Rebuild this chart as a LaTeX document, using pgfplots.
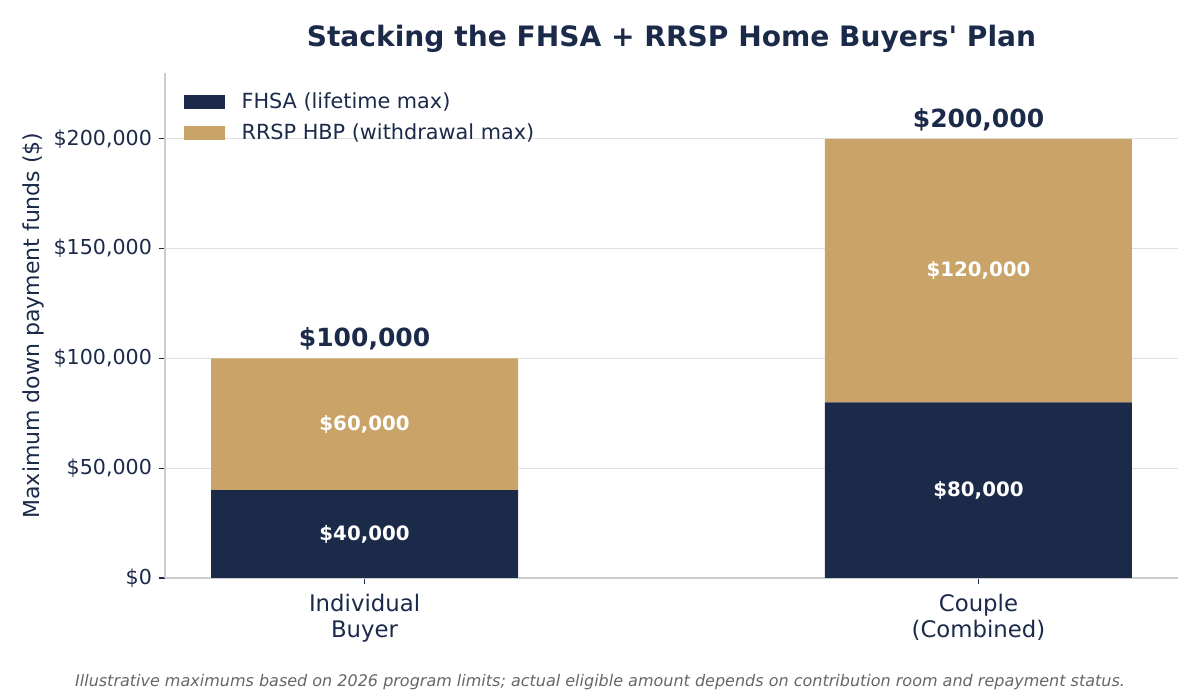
\documentclass[border=0pt]{standalone}
\usepackage{fontspec}
\setmainfont{DejaVu Sans}
\usepackage{pgfplots}
\pgfplotsset{compat=1.18}
\definecolor{navy}{HTML}{1C2A4A}
\definecolor{tan}{HTML}{C9A368}
\definecolor{gridc}{HTML}{E0E0E0}
\definecolor{spine}{HTML}{CCCCCC}
\definecolor{foot}{HTML}{666666}

\begin{document}
\begin{tikzpicture}
\path[use as bounding box] (0,0) rectangle (600pt,345pt);
\pgfplotsset{common/.style={
  at={(82.5pt,56pt)}, anchor=south west, scale only axis,
  width=506.5pt, height=252.5pt,
  xmin=-0.325, xmax=1.325, ymin=0, ymax=230000}}
\begin{axis}[common,
  ybar stacked, bar width=153.5pt,
  axis lines*=left, axis line style={spine, line width=0.8pt},
  xtick={0,1}, xticklabels={{Individual\\Buyer},{Couple\\(Combined)}},
  xticklabel style={align=center, font=\fontsize{11.4}{13}\selectfont, text=navy, yshift=-1.5pt},
  ytick={0,50000,100000,150000,200000},
  yticklabels={{\$0},{\$50,000},{\$100,000},{\$150,000},{\$200,000}},
  yticklabel style={font=\fontsize{10.3}{12}\selectfont, text=navy},
  scaled y ticks=false,
  tick align=outside, tick style={navy, line width=0.6pt},
  major tick length=3pt,
  ymajorgrids, grid style={gridc, line width=0.6pt},
  ylabel={Maximum down payment funds (\$)},
  ylabel style={font=\fontsize{11}{13}\selectfont, text=navy, yshift=-2pt},
  legend style={at={(0.012,0.978)}, anchor=north west, draw=none, fill=none,
    font=\fontsize{10.4}{12}\selectfont, text=navy, row sep=2pt,
    legend cell align=left,
    /tikz/every odd column/.append style={column sep=6.5pt}},
]
\addplot[fill=navy, draw=none,
  legend image code/.code={\fill[navy] (0pt,-3.5pt) rectangle (20.5pt,3.5pt);}]
  coordinates {(0,40000) (1,80000)};
\addlegendentry{FHSA (lifetime max)}
\addplot[fill=tan, draw=none,
  legend image code/.code={\fill[tan] (0pt,-3.5pt) rectangle (20.5pt,3.5pt);}]
  coordinates {(0,60000) (1,120000)};
\addlegendentry{RRSP HBP (withdrawal max)}
\end{axis}
\begin{axis}[common, hide axis]
\addplot[draw=none, mark=none, nodes near coords, point meta=explicit symbolic,
  every node near coord/.style={anchor=center, text=white,
    font=\bfseries\fontsize{9.9}{11}\selectfont}]
  coordinates {(0,20000)[\$40,000] (1,40000)[\$80,000]
               (0,70000)[\$60,000] (1,140000)[\$120,000]};
\addplot[draw=none, mark=none, nodes near coords, point meta=explicit symbolic,
  every node near coord/.style={anchor=south, text=navy, yshift=0.5pt,
    font=\bfseries\fontsize{12.5}{14}\selectfont}]
  coordinates {(0,100000)[\$100,000] (1,200000)[\$200,000]};
\end{axis}
\node[text=navy, font=\bfseries\fontsize{14.05}{16}\selectfont] at (335.75pt,325.5pt)
  {Stacking the FHSA + RRSP Home Buyers\textquotesingle\ Plan};
\node[text=foot, font=\itshape\fontsize{8}{10}\selectfont] at (300pt,4pt)
  {Illustrative maximums based on 2026 program limits; actual eligible amount depends on contribution room and repayment status.};
\end{tikzpicture}
\end{document}
